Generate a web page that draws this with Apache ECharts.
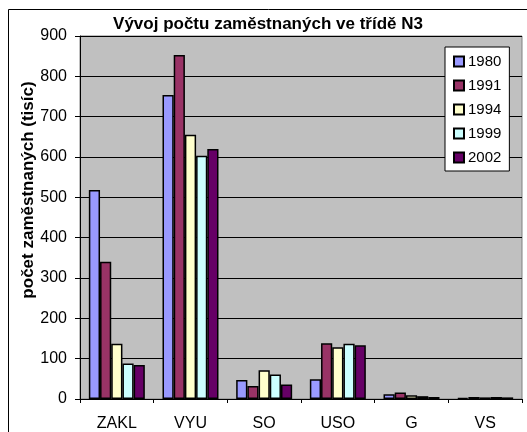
<!DOCTYPE html>
<html><head><meta charset="utf-8">
<script src="https://cdn.jsdelivr.net/npm/echarts@6/dist/echarts.min.js"></script>
<style>html,body{margin:0;padding:0;background:#fff}#c{width:527px;height:432px}</style>
</head><body><div id="c"></div>
<script>
const categories = ['ZAKL','VYU','SO','USO','G','VS'];
const years = ['1980','1991','1994','1999','2002'];
const v1980 = [518, 754, 47, 49, 12, 3];
const v1991 = [340, 853, 32, 138, 16, 5];
const v1994 = [137, 655, 71, 128, 9, 4];
const v1999 = [88, 603, 61, 137, 7, 5];
const v2002 = [84, 620, 36, 133, 5, 4];
const yTicks = [0,100,200,300,400,500,600,700,800,900];
const colors = ['#9999FF','#993366','#FFFFCC','#CCFFFF','#660066'];
const values = [v1980, v1991, v1994, v1999, v2002];
const F = 'Liberation Sans, Arial, sans-serif';
const chart = echarts.init(document.getElementById('c'));
chart.setOption({
  animation:false,
  title:{text:'Vývoj počtu zaměstnaných ve třídě N3',left:268,textAlign:'center',top:16,padding:0,
    textStyle:{fontFamily:F,fontSize:17,fontWeight:'bold',color:'#000'}},
  graphic:[{type:'rect',shape:{x:8.5,y:9.5,width:600,height:600},style:{fill:null,stroke:'#000',lineWidth:1},z:-10}],
  legend:{orient:'vertical',left:445,top:47,width:64,height:123,padding:[7,8,6,8],
    backgroundColor:'#fff',borderColor:'#000',borderWidth:1,itemGap:9,
    itemWidth:10,itemHeight:10,icon:'rect',
    textStyle:{fontFamily:F,fontSize:15,color:'#000',padding:[0,0,0,-1]},
    data:years},
  grid:{left:80,top:36,right:5,bottom:33,show:true,backgroundColor:'#C0C0C0',borderColor:'#808080',borderWidth:1},
  xAxis:{type:'category',data:categories,
    axisLine:{lineStyle:{color:'#000',width:1}},
    axisTick:{show:true,length:4,lineStyle:{color:'#000'}},
    axisLabel:{fontFamily:F,fontSize:16,color:'#000',margin:17}},
  yAxis:{type:'value',min:0,max:900,interval:100,
    name:'počet zaměstnaných (tisíc)',nameLocation:'middle',nameGap:43,nameMoveOverlap:false,
    nameTextStyle:{fontFamily:F,fontSize:17,fontWeight:'bold',color:'#000',padding:[0,0,0,55]},
    axisLine:{show:true,lineStyle:{color:'#000'}},
    axisTick:{show:true,length:5,lineStyle:{color:'#000'}},
    axisLabel:{fontFamily:F,fontSize:16,color:'#000',margin:13,
      formatter:v=>yTicks.includes(v)?String(v):''},
    splitLine:{lineStyle:{color:'#000',width:1}}},
  series: years.map((y,i)=>({
    name:y,type:'bar',data:values[i],barGap:'0%',barCategoryGap:'24%',
    itemStyle:{color:colors[i],borderColor:'#000',borderWidth:1.5}
  }))
});
</script></body></html>
